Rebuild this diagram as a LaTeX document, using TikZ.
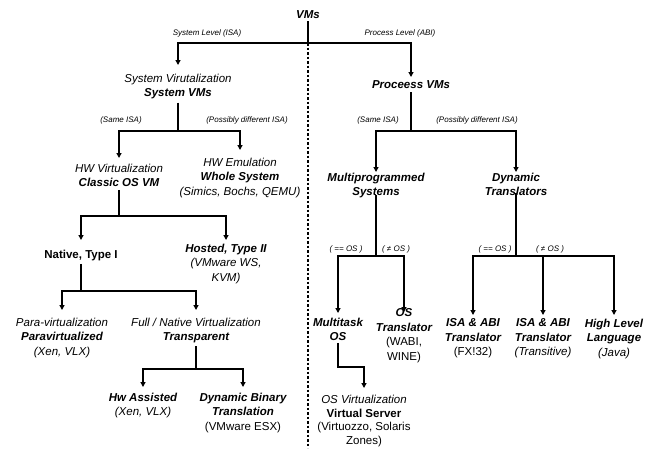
\documentclass[tikz,border=0pt]{standalone}
\usepackage{fontspec}
\setmainfont{Liberation Sans}
\usetikzlibrary{arrows.meta}
\newcommand{\myI}{\itshape}
\newcommand{\myBI}{\bfseries\itshape}
\newcommand{\myB}{\bfseries}
\begin{document}
\begin{tikzpicture}[x=1pt,y=-1pt,
  txt/.style={anchor=north,inner sep=0pt,align=center,font=\fontsize{11.5}{14.4}\selectfont},
  lab/.style={inner sep=0pt,font=\fontsize{8}{9}\selectfont\itshape},
  ln/.style={line width=1.2pt},
  arr/.style={ln,-{Triangle[length=5pt,width=5pt]}},
  sg/.style={shorten >=#1},
  sl/.style={shorten <=#1},
  dsh/.style={line width=1.1pt,dash pattern=on 2.5pt off 2pt}]
\useasboundingbox (0,0) rectangle (655,448);

% nodes
\node[txt,anchor=center] (vms) at (308,15) {{\myBI VMs}};
\node[txt] (sysvm) at (178,73.7) {{\myI System Virutalization}\\{\myBI System VMs}};
\node[txt] (procvm) at (411,80.7) {{\myBI Proceess VMs}};
\node[txt] (hwv) at (119,163.7) {{\myI HW Virtualization}\\{\myBI Classic OS VM}};
\node[txt] (hwe) at (240,157.7) {{\myI HW Emulation}\\{\myBI Whole System}\\{\myI (Simics, Bochs, QEMU)}};
\node[txt] (native) at (81,249.7) {{\myB Native, Type I}};
\node[txt] (hosted) at (226,243.7) {{\myBI Hosted, Type II}\\{\myI (VMware WS,}\\{\myI KVM)}};
\node[txt] (para) at (62,317.7) {{\myI Para-virtualization}\\{\myBI Paravirtualized}\\{\myI (Xen, VLX)}};
\node[txt] (full) at (196,317.7) {{\myI Full / Native Virtualization}\\{\myBI Transparent}};
\node[txt] (hwa) at (143,392.7) {{\myBI Hw Assisted}\\{\myI (Xen, VLX)}};
\node[txt] (dbt) at (243,392.7) {{\myBI Dynamic Binary}\\{\myBI Translation}\\(VMware ESX)};
\node[txt] (multi) at (376,172.7) {{\myBI Multiprogrammed}\\{\myBI Systems}};
\node[txt] (dyn) at (516,172.7) {{\myBI Dynamic}\\{\myBI Translators}};
\node[txt] (mt) at (338,317.7) {{\myBI Multitask}\\{\myBI OS}};
\node[txt] (ostr) at (404,308.7) {{\myBI OS}\\{\myBI Translator}\\(WABI,\\WINE)};
\node[txt,font=\fontsize{11.5}{13.6}\selectfont] (osv) at (364,395.2) {{\myI OS Virtualization}\\{\myB Virtual Server}\\(Virtuozzo, Solaris\\Zones)};
\node[txt] (isa1) at (473,318.7) {{\myBI ISA \& ABI}\\{\myBI Translator}\\(FX!32)};
\node[txt] (isa2) at (543,318.7) {{\myBI ISA \& ABI}\\{\myBI Translator}\\{\myI (Transitive)}};
\node[txt] (hll) at (614,318.7) {{\myBI High Level}\\{\myBI Language}\\{\myI (Java)}};

% labels
\node[lab] (l1) at (207,33) {System Level (ISA)};
\node[lab] (l2) at (400,33) {Process Level (ABI)};
\node[lab] (l3) at (121,120) {(Same ISA)};
\node[lab] (l4) at (247,120) {(Possibly different ISA)};
\node[lab] (l5) at (378,120) {(Same ISA)};
\node[lab] (l6) at (477,120) {(Possibly different ISA)};
\node[lab] (l7) at (346,249) {( == OS )};
\node[lab] (l8) at (396,249) {( ≠ OS )};
\node[lab] (l9) at (495,249) {( == OS )};
\node[lab] (l10) at (550,249) {( ≠ OS )};

% junctions
\coordinate (j0) at (308,43);
\coordinate (j1) at (178,131);
\coordinate (j2) at (119,216);
\coordinate (j3) at (81,291);
\coordinate (j4) at (196,369);
\coordinate (j5) at (411,131);
\coordinate (j6) at (376,256);
\coordinate (j7) at (516,256);
\coordinate (j7m) at (543,256);
\coordinate (j8) at (338,367);
\coordinate (dbot) at (308,448);

% dashed divider
\draw[dsh] (j0) -- (dbot);

% connectors
\draw[ln,sl=2pt] (vms.south) -- (j0);
\draw[arr,sg=8.7pt] (j0) -| (sysvm.north);
\draw[arr,sg=3.7pt] (j0) -| (procvm.north);

\draw[arr,sl=3.5pt,sg=5.7pt] (sysvm.south) -- (j1) -| (hwv.north);
\draw[arr,sg=7.7pt] (j1) -| (hwe.north);

\draw[arr,sl=3pt,sg=9.7pt] (hwv.south) -- (j2) -| (native.north);
\draw[arr,sg=3.7pt] (j2) -| (hosted.north);

\draw[arr,sl=3pt,sg=7.7pt] (native.south) -- (j3) -| (para.north);
\draw[arr,sg=7.7pt] (j3) -| (full.north);

\draw[arr,sl=3pt,sg=5.7pt] (full.south) -- (j4) -| (hwa.north);
\draw[arr,sg=5.7pt] (j4) -| (dbt.north);

\draw[arr,sl=3pt,sg=0.7pt] (procvm.south) -- (j5) -| (multi.north);
\draw[arr,sg=0.7pt] (j5) -| (dyn.north);

\draw[arr,sl=-3pt,sg=4.7pt] (multi.south) -- (j6) -| (mt.north);
\draw[arr,sg=-3.3pt] (j6) -| (ostr.north);

\draw[arr,sl=-3pt,sg=3.7pt] (dyn.south) -- (j7) -| (isa1.north);
\draw[arr,sg=3.7pt] (j7) -| (hll.north);
\draw[arr,sg=3.7pt] (j7m) -- (isa2.north);

\draw[arr,sl=2pt,sg=7.2pt] (mt.south) -- (j8) -| (osv.north);
\end{tikzpicture}
\end{document}
